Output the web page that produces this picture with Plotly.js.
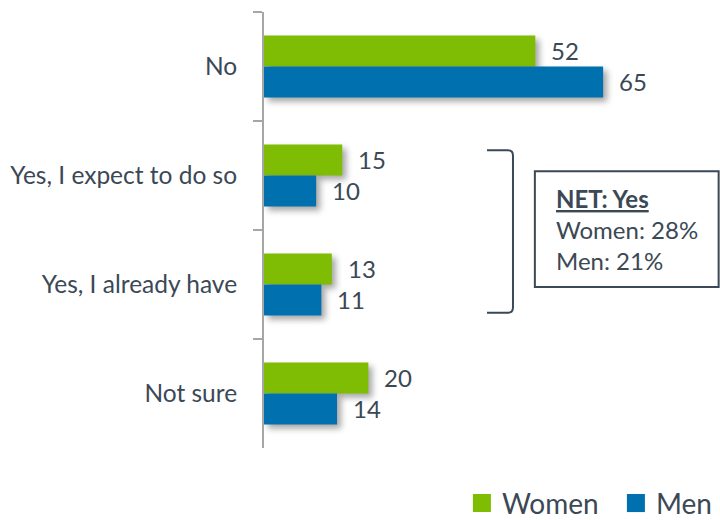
<!DOCTYPE html>
<html>
<head>
<meta charset="utf-8">
<script src="https://cdn.plot.ly/plotly-3.0.1.min.js"></script>
<style>
  html, body { margin: 0; padding: 0; background: #ffffff; }
  #chart { width: 720px; height: 520px; }
</style>
</head>
<body>
<div id="chart"></div>
<script>
// ---- data ----
const categories = ["No", "Yes, I expect to do so", "Yes, I already have", "Not sure"];
const women = [52, 15, 13, 20];
const men = [65, 10, 11, 14];
const seriesNames = ["Women", "Men"];
const netTitle = "NET: Yes";
const netLines = ["Women: 28%", "Men: 21%"];

// ---- style ----
const GREEN = "#7fbd05";
const BLUE = "#0071ae";
const TEXT = "#3b4855";
const AXIS = "#a6a6a6";
const FONT = "Lato, 'Open Sans', sans-serif";

const traces = [
  { type: "bar", orientation: "h", name: seriesNames[0], x: women, y: categories,
    marker: { color: GREEN }, hoverinfo: "skip" },
  { type: "bar", orientation: "h", name: seriesNames[1], x: men, y: categories,
    marker: { color: BLUE }, hoverinfo: "skip" }
];

// value labels placed via data coordinates
const annotations = [];
categories.forEach((c, i) => {
  annotations.push({ x: women[i], y: c, xref: "x", yref: "y", text: String(women[i]),
    showarrow: false, xanchor: "left", xshift: 14, yshift: 16,
    font: { family: FONT, size: 24, color: TEXT } });
  annotations.push({ x: men[i], y: c, xref: "x", yref: "y", text: String(men[i]),
    showarrow: false, xanchor: "left", xshift: 14, yshift: -15,
    font: { family: FONT, size: 24, color: TEXT } });
});

// NET box text
annotations.push({
  xref: "paper", yref: "paper", x: 0.636, y: 0.502, xanchor: "left", yanchor: "middle",
  text: "<b><u>" + netTitle + "</u></b><br>" + netLines.join("<br>"),
  showarrow: false, align: "left",
  font: { family: FONT, size: 24, color: TEXT }
});

const shapes = [
  { // bracket
    type: "path", xref: "paper", yref: "paper",
    path: "M 0.489,0.683 L 0.535,0.683 Q 0.546,0.683 0.546,0.671 L 0.546,0.322 Q 0.546,0.310 0.535,0.310 L 0.489,0.310",
    line: { color: TEXT, width: 2 }
  },
  { // NET box
    type: "rect", xref: "paper", yref: "paper",
    x0: 0.594, x1: 0.997, y0: 0.369, y1: 0.635,
    line: { color: TEXT, width: 2 }, fillcolor: "rgba(0,0,0,0)"
  }
];

const layout = {
  width: 720, height: 520,
  margin: { l: 264, r: 0, t: 12, b: 72, autoexpand: false },
  paper_bgcolor: "#ffffff", plot_bgcolor: "#ffffff",
  barmode: "group", bargap: 0.43, bargroupgap: 0,
  font: { family: FONT, color: TEXT },
  xaxis: { range: [0, 87.4], showgrid: false, zeroline: false, showline: false,
    showticklabels: false, ticks: "", fixedrange: true },
  yaxis: { type: "category", autorange: "reversed", showgrid: false, zeroline: false,
    showline: true, linecolor: AXIS, linewidth: 2,
    ticks: "outside", tickson: "boundaries", ticklen: 9, tickwidth: 2, tickcolor: AXIS,
    ticklabelstandoff: 20,
    tickfont: { family: FONT, size: 24.5, color: TEXT } },
  showlegend: true,
  legend: { orientation: "h", x: 0.434, xanchor: "left", y: -0.127, yanchor: "middle",
    font: { family: FONT, size: 28, color: TEXT }, traceorder: "normal",
    itemwidth: 30, entrywidth: 109, bgcolor: "rgba(0,0,0,0)" },
  annotations: annotations,
  shapes: shapes
};

Plotly.newPlot("chart", traces, layout, { displayModeBar: false, staticPlot: true }).then(gd => {
  gd.querySelectorAll(".barlayer .point path").forEach(p => {
    p.style.filter = "drop-shadow(4px 4px 3px rgba(0,0,0,0.35))";
  });
  gd.querySelectorAll(".legendpoints path").forEach(p => {
    const t = p.getAttribute("transform") || "";
    p.setAttribute("transform", t + " scale(1.5)");
    p.style.strokeWidth = "0";
  });
});
</script>
</body>
</html>
